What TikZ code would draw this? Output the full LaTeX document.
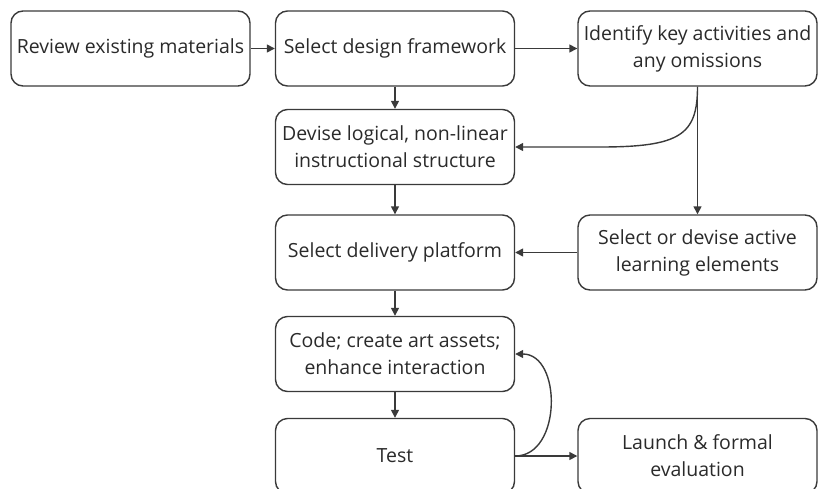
\documentclass[tikz,border=0pt]{standalone}
\usepackage{fontspec}
\setmainfont{Open Sans}
\usetikzlibrary{arrows.meta}
\definecolor{linec}{HTML}{3A3A3A}
\definecolor{txtc}{HTML}{2A2A2A}
\begin{document}
\begin{tikzpicture}[x=1pt,y=-1pt,
  box/.style={draw=linec, line width=1.4pt, rounded corners=12pt, minimum width=239pt, minimum height=75pt, align=center, font=\fontsize{19.5}{27}\selectfont, text=txtc, inner sep=1pt},
  conn/.style={draw=linec, line width=1.4pt, -{Triangle[length=8pt,width=8pt]}}]
\useasboundingbox (0,0) rectangle (819,488);
\node[box] (rev) at (130.5,48.5) {Review existing materials};
\node[box] (sel) at (395,48.5) {Select design framework};
\node[box] (ide) at (697.5,48.5) {Identify key activities and\\any omissions};
\node[box] (dev) at (395,147) {Devise logical, non-linear\\instructional structure};
\node[box] (del) at (395,252.5) {Select delivery platform};
\node[box] (act) at (697.5,252.5) {Select or devise active\\learning elements};
\node[box] (cod) at (395,354) {Code; create art assets;\\enhance interaction};
\node[box] (tst) at (395,456) {Test};
\node[box] (lau) at (697.5,456) {Launch \& formal\\evaluation};
\coordinate (bend) at (600,147);
\draw[conn] (rev) -- (sel);
\draw[conn] (sel) -- (ide);
\draw[conn] (sel) -- (dev);
\draw[conn] (ide.south) .. controls (697.5,135) and (680,147) .. (bend) -- (dev.east);
\draw[conn] (ide) -- (act);
\draw[conn] (act) -- (del);
\draw[conn] (dev) -- (del);
\draw[conn] (del) -- (cod);
\draw[conn] (cod) -- (tst);
\draw[conn] (tst.east) -- (lau.west);
\draw[conn] (tst.east) .. controls (562,456) and (562,354) .. (cod.east);
\end{tikzpicture}
\end{document}
